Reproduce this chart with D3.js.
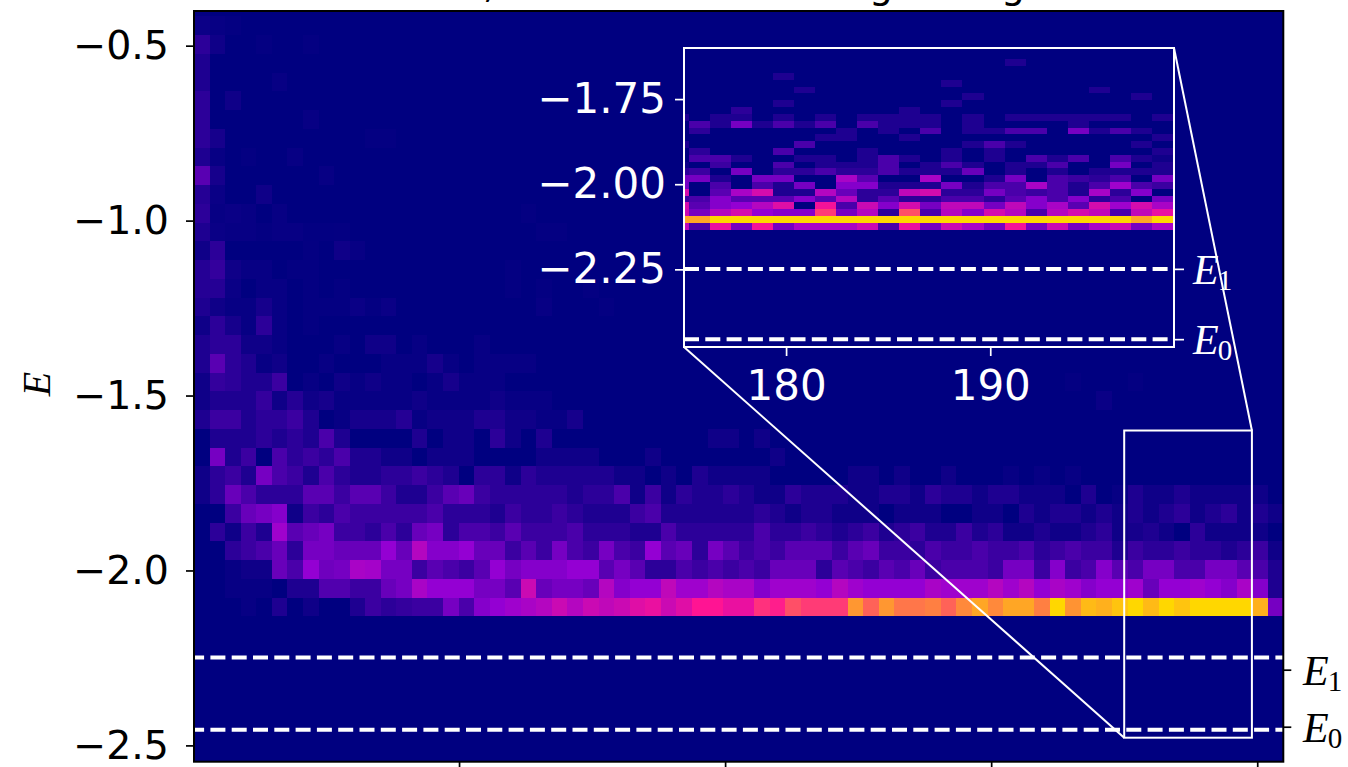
<!DOCTYPE html>
<html>
<head>
<meta charset="utf-8">
<title>E histogram</title>
<script src="https://d3js.org/d3.v7.min.js"></script>
<style>
	body { margin: 0; background: #fff; overflow: hidden; }
	svg { display: block; }
	text { font-family: "DejaVu Sans", sans-serif; }
	.math { font-family: "Liberation Serif", serif; }
</style>
</head>
<body>
<script>
// tick values
var mainYTicks = [-0.5, -1.0, -1.5, -2.0, -2.5];
var mainXTicks = [50, 100, 150, 200];
var insetYTicks = [-1.75, -2.0, -2.25];
var insetXTicks = [180, 190];

// the two dashed levels, and where their labels sit on the main right axis
var levels = [-2.2486, -2.455];
var levelNames = ['1', '0'];
var mainLevelTicks = [-2.2836, -2.4466];

// zoom window of the inset
var zoomX = [175, 199];
var zoomY = [-2.478, -1.6];

// colour stops, counts as a 0..30 level
var colorLevels = [0, 10, 20, 30];
var colorNames = ['navy', 'darkviolet', 'deeppink', 'gold'];

// main histogram bins
var mainBinX = [0.2, 2.924];
var mainBinY = [-2.1314, 0.0536];
// rows go upward from the lowest filled bin, missing tail cells are 0
var mainRows = [
	[0,0,0,.5,0,2,0,1,0,0,2,4,3,3.5,4,4,8,5,9,10,11,12,13,15,13,15,14,15,17,18,15,17,20,20,18,18,21.5,20.5,23,22,22,22,26.7,24,26.7,25,25,25.5,24,26,27.5,26,27.5,27.5,25.5,30,26.5,28.5,28,29,30,28.5,30,29,30,30,30,30,28,8],
	[0,0,.5,.5,.5,0,2,2,5.5,5.5,4,4,7,8,12,10,10,10,8,8,6,15,7,8,8,7,13,9,10,10,14,11,11,13,12,12,9,11,11,11,10,13,11,10,10,10,10,12,11,11,11,13,11,13,10,12,11,9,10,10,11,7,10,10,11,10,9,12,9,2],
	[0,0,.5,1,1,7,5,10,7.5,8,12,11.5,8,8,4,6,5,4,6,10,8,9,9,9,10,10,6,8,6,3,3,5,4,5,4,5,4,7,7,7,3,6,5,4,6,5,7,4,5,5,5,4,8,8,4,9,4,5,9,6,5,8,8,5,5,8,8,6,5,2],
	[0,0,3,4,5,7,3,8,8,7,7,7,10,7,13,9,9,10,7,7,4,6,4,8,5,4,8,5,4,10,6,7,3,8,6,4,5,4,6,6,6,4,6,7,4,4,3,5,4,4,5,4,4,5,3,4,5,4,4,2,4,3,3,4,3,3,2,3,4,1],
	[0,3,1,4,2,11,6,7,8,4,4,3,5,3,7,8,3,5,5,4,6,4,4,4,5,3,3,3,2,2,5,3,3,3,3,3,5,3,3,4,3,2,3,4,2,3,4,2,2,4,2,3,1,1,2,1,1,2,3,1,1.5,2,1,0,3,1,1,1,1,0],
	[0,0,4,7,8,9,1,4,3,5,4,4,4,4,4,5,3,3,3,2,4,3,3,4,3,2,2,2,4,5,2,2,2,2,2,2,3,2,1,2,2,1,1,1,0,1,1,1,0,0,1,1,0,2,1,2,2,1,2,1,2,1,2,3,1,2,3,1,2,1],
	[1,3,7,5,3,3,3,6,6,4,6,6,4,2,2,4,6,7,4,3,3,3,3,3,2,3,3,5,1,4,1,3,2,2,3,2,1,1,3,2,2,2,1,1,2,2,1,3,2,2,1,2,2,1,1,1,0,2,0,.5,2,1,1,2,1,1,1,1,1,0],
	[1,3,4,2,8,5,4,2,5,3,2,2,3,3,4,3,2,0,3,3,1,3,2,2,2,2,2,1,1,0,1,0,2,1,1,1,1,0,0,0,0,0,1,1,0,1,0,0,1,0,0,0,.5,0,.5,0,.5],
	[0,8,2,4,0,5,3,4,3,5,2,2,1,1,0,1,1,1,0,0,0,0,1,1,1,1,0,0,0,1,0,0,0,0,0,0,0,1],
	[0,2,2,2,3,2,3,2,5,2,0,0,0,0,2,0,1,1,0,3,1,0,2,0,0,0,0,0,0,0,0,0,0,1,1,0,1],
	[2,4,4,2,3,3,4,2,0,.5,1.5,1.5,1.5,2.5,.5,1,1,1,2,2,1,1,.5,.5,1.5],
	[1,2,2,2,3.5,1,2.5,1,1.5,.5,.5,.5,.5,.5,1,.5,.5,.5,.5,1,.5,.5,.5,0,0,0,0,0,0,0,0,0,0,0,0,0,0,0,0,0,0,0,0,0,0,0,0,0,0,0,0,0,0,0,0,0,0,0,.7],
	[1,3.5,3,2,2,4,0,.5,0,1,.5,1,.5,.5,0,.5,1.5,.5,.5,.5,0,0,0,0,0,0,0,0,0,0,0,0,0,0,0,0,0,0,0,0,0,0,0,0,0,0,0,0,0,0,0,0,0,0,0,0,.3,0,0,0,.3],
	[2,6,3,2,.5,1,0,0,.5,0,0,0,.5,.5,.5,1.5,.5,0,.5,.5,.5,.5],
	[2,3,3,1,1,.5,0,0,0,.5,0,1,1,0,.5,0,0,0,.5],
	[1,3,1.5,.5,3,.5,0,.3],
	[2,1,.5,.5,1.5,.5,0,.3,.3,.3,.7,.3,.7,0,0,0,0,0,0,0,0,0,.5,0,0,0,.3],
	[2.5,2.5,.7,0,.5,.5,0,.3,0,.3,0,0,0,0,0,0,0,0,0,0,.3,0,.3,0,0,.3],
	[2.5,3.5,1,.5,.5,0,.3,.3,0,0,0,0,0,0,0,0,0,0,0,0,.3],
	[1,3,0,0,0,0,0,.3,0,1,.5],
	[2,.7,.5,.5,.3,.5,.5,.2,.2,.3,0,0,0,0,0,0,0,0,0,0,0,0,.3,.3],
	[3,.5,.7,.5,0,.5,0,0,0,0,0,0,0,0,0,0,0,0,0,0,0,.3],
	[2.5,.7,0,0,1],
	[6,1.5,0,0,0,0,0,0,.5],
	[2,.5,0,.3,0,0,.5],
	[3,1.5,0,0,0,0,0,0,0,0,0,.3,.3],
	[3,0,0,0,0,0,0,.5],
	[3,0,1],
	[2,0,0,0,0,.5],
	[2],
	[3,1,0,0,.3,0,0,.3],
	[.8,.5,.3],
	[.3]
];

// inset histogram bins
var insetBinX = [174.22, 1.03];
var insetBinY = [-2.1335, 0.02];
var insetRows = [
	[14,5,18,8,19,8,12,12,12,15,5,18,8,15,12,8,19,8,15,8,12,15,8,12],
	[27.5,27.5,30,30,30,30,30,30,30,30,30,30,30,30,30,30,30,30,30,30,30,30,27.5,30],
	[15,8,13,16,10,9,9,22,8,13,3,23,5,13,9,16,13,5,13,16,14,5,14,18],
	[16,6,9,10,13,17,0,19,5,15,9,16,8,14,14,8,14,9,12,6,16,11,16,12],
	[4,5,9,6,6,6,9,6,13,3,6,3,3,5,5,3,6,9,5,9,3,5,0,8],
	[16,0,6,12,16,2,2,13,7,3,3,14,16,3,3,8,5,4,5,2,12,3,9,0],
	[8,0,5,0,5,2,8,0,9,9,2,2,2,8,2,5,5,12,5,2,5,11,5,4],
	[8,8,2,0,8,8,0,0,12,6,0,0,12,0,0,2,8,0,5,4,3,5,0,8],
	[3,4,0,8,0,3,3,5,3,3,5,2,2,2,7,0,2,0,2,0,2,2,2,2],
	[1,0,4,0,0,5,0,2,2,2,5,0,2,5,2,0,2,2,5,0,0,8,0,2],
	[0,5,5,2,0,0,2,2,0,2,5,2,0,2,0,2,0,5,2,5,0,5,2,1],
	[0,3,0,0,0,5,0,0,0,2,0,0,0,2,0,2,0,0,0,0,0,0,0,2],
	[2,0,0,0,0,0,5,0,0,0,0,0,0,0,2,5,2,0,0,0,0,0,2,0],
	[0,0,0,0,0,0,0,2,2,0,0,2,0,0,0,0,0,0,0,0,0,0,0,2],
	[0,3,0,0,0,0,0,0,2,0,2,0,5,0,2,2,5,5,0,8,2,5,2,0],
	[0,5,2,8,2,5,2,5,0,5,2,2,2,0,2,0,0,0,0,2,0,0,0,0],
	[2,0,2,2,0,2,0,2,0,2,2,2,2,0,2,0,2,2,2,2,2,2,0,2],
	[0,0,0,3,0,0,0,0,0,0,0,2],
	[0,0,0,0,0,2,0,0,0,0,0,0,0,2],
	[0,0,0,0,0,0,0,0,0,0,0,0,0,0,2,0,0,0,0,0,0,0,2],
	[0,0,0,0,0,0,2,0,0,0,0,0,0,0,0,0,0,0,0,0,2],
	[0,0,0,0,0,0,0,0,0,0,0,0,0,2],
	[0,0,0,0,0,2],
	[],
	[0,0,0,0,0,0,0,0,0,0,0,0,0,0,0,0,2]
];

var svgConfig = { width: 1348, height: 767 };
var mainBox = { left: 194, right: 1283.3, top: 11, bottom: 761.7 };
var insetBox = { left: 684, right: 1174, top: 48, bottom: 347 };

var svg =
	d3.select('body')
	.append('svg')
	.attr('width', svgConfig.width)
	.attr('height', svgConfig.height);
var defs = svg.append('defs');

var color =
	d3.scaleLinear()
	.domain(colorLevels)
	.range(colorNames)
	.clamp(true);

// main scales
var xMain =
	d3.scaleLinear()
	.domain([0.19, 204.9])
	.range([mainBox.left, mainBox.right]);
var yMain =
	d3.scaleLinear()
	.domain([-2.5466, -0.4009])
	.range([mainBox.bottom, mainBox.top]);

// inset scales
var xInset =
	d3.scaleLinear()
	.domain(zoomX)
	.range([insetBox.left, insetBox.right]);
var yInset =
	d3.scaleLinear()
	.domain(zoomY)
	.range([insetBox.bottom, insetBox.top]);

// one heatmap panel: navy background, cells clipped to the box, dashed levels
function drawPanel(id, box, x, y, rows, binX, binY, dashOffset) {
	defs.append('clipPath')
		.attr('id', id)
		.append('rect')
		.attr('x', box.left)
		.attr('y', box.top)
		.attr('width', box.right - box.left)
		.attr('height', box.bottom - box.top);
	var g = svg.append('g').attr('clip-path', 'url(#' + id + ')');
	g.append('rect')
		.attr('x', box.left)
		.attr('y', box.top)
		.attr('width', box.right - box.left)
		.attr('height', box.bottom - box.top)
		.attr('fill', color(0));
	var cells = [];
	rows.forEach(function (row, r) {
		row.forEach(function (v, c) {
			if (v > 0) cells.push({ r: r, c: c, v: v });
		});
	});
	g.selectAll('.cell')
		.data(cells)
		.enter()
		.append('rect')
		.attr('class', 'cell')
		.attr('x', function (d) { return x(binX[0] + d.c * binX[1]); })
		.attr('y', function (d) { return y(binY[0] + (d.r + 1) * binY[1]); })
		.attr('width', function (d) { return x(binX[0] + (d.c + 1) * binX[1]) - x(binX[0] + d.c * binX[1]); })
		.attr('height', function (d) { return y(binY[0] + d.r * binY[1]) - y(binY[0] + (d.r + 1) * binY[1]); })
		.attr('fill', function (d) { return color(d.v); })
		.attr('shape-rendering', 'crispEdges');
	g.selectAll('.level')
		.data(levels)
		.enter()
		.append('line')
		.attr('class', 'level')
		.attr('x1', box.left)
		.attr('x2', box.right)
		.attr('y1', function (d) { return y(d); })
		.attr('y2', function (d) { return y(d); })
		.attr('stroke', '#fff')
		.attr('stroke-width', 4)
		.attr('stroke-dasharray', '15 6.3')
		.attr('stroke-dashoffset', dashOffset);
}

drawPanel('mainClip', mainBox, xMain, yMain, mainRows, mainBinX, mainBinY, 4.9);

// main axes
function styleAxis(g, col, fontSize) {
	g.selectAll('.domain').remove();
	g.selectAll('line').attr('stroke', col).attr('stroke-width', 1.7);
	g.selectAll('text').attr('fill', col).style('font-size', fontSize + 'px').style('font-family', '"DejaVu Sans", sans-serif');
}

svg.append('g')
	.attr('transform', 'translate(' + mainBox.left + ',0)')
	.call(d3.axisLeft(yMain).tickValues(mainYTicks).tickSize(8).tickPadding(17).tickFormat(d3.format('.1f')))
	.call(styleAxis, '#000', 39.5);
svg.append('g')
	.attr('transform', 'translate(0,' + mainBox.bottom + ')')
	.call(d3.axisBottom(xMain).tickValues(mainXTicks).tickSize(8).tickFormat(''))
	.call(styleAxis, '#000', 39.5);
svg.append('g')
	.attr('transform', 'translate(' + mainBox.right + ',0)')
	.call(d3.axisRight(yMain).tickValues(mainLevelTicks).tickSize(8).tickFormat(''))
	.call(styleAxis, '#000', 39.5);

svg.append('rect')
	.attr('x', mainBox.left)
	.attr('y', mainBox.top)
	.attr('width', mainBox.right - mainBox.left)
	.attr('height', mainBox.bottom - mainBox.top)
	.attr('fill', 'none')
	.attr('stroke', '#000')
	.attr('stroke-width', 2);

// inset
drawPanel('insetClip', insetBox, xInset, yInset, insetRows, insetBinX, insetBinY, 0);

svg.append('g')
	.attr('transform', 'translate(' + insetBox.left + ',0)')
	.call(d3.axisLeft(yInset).tickValues(insetYTicks).tickSize(9).tickPadding(9).tickFormat(d3.format('.2f')))
	.call(styleAxis, '#fff', 42);
svg.append('g')
	.attr('transform', 'translate(0,' + insetBox.bottom + ')')
	.call(d3.axisBottom(xInset).tickValues(insetXTicks).tickSize(9).tickPadding(14).tickFormat(d3.format('d')))
	.call(styleAxis, '#fff', 42);
svg.append('g')
	.attr('transform', 'translate(' + insetBox.right + ',0)')
	.call(d3.axisRight(yInset).tickValues(levels).tickSize(10).tickFormat(''))
	.call(styleAxis, '#fff', 42);

svg.append('rect')
	.attr('x', insetBox.left)
	.attr('y', insetBox.top)
	.attr('width', insetBox.right - insetBox.left)
	.attr('height', insetBox.bottom - insetBox.top)
	.attr('fill', 'none')
	.attr('stroke', '#fff')
	.attr('stroke-width', 2);

// zoom window on the main axes and its two connectors
svg.append('rect')
	.attr('x', xMain(zoomX[0]))
	.attr('y', yMain(zoomY[1]))
	.attr('width', xMain(zoomX[1]) - xMain(zoomX[0]))
	.attr('height', yMain(zoomY[0]) - yMain(zoomY[1]))
	.attr('fill', 'none')
	.attr('stroke', '#fff')
	.attr('stroke-width', 2);
svg.append('line')
	.attr('x1', insetBox.right)
	.attr('y1', insetBox.top)
	.attr('x2', xMain(zoomX[1]))
	.attr('y2', yMain(zoomY[1]))
	.attr('stroke', '#fff')
	.attr('stroke-width', 2);
svg.append('line')
	.attr('x1', insetBox.left)
	.attr('y1', insetBox.bottom)
	.attr('x2', xMain(zoomX[0]))
	.attr('y2', yMain(zoomY[0]))
	.attr('stroke', '#fff')
	.attr('stroke-width', 2);

// E_n labels
function levelLabel(xE, baseY, name, col) {
	var t = svg.append('text')
		.attr('class', 'math')
		.attr('x', xE)
		.attr('y', baseY)
		.attr('fill', col)
		.style('font-size', '42px');
	t.append('tspan').style('font-style', 'italic').text('E');
	t.append('tspan')
		.attr('dy', 6)
		.attr('dx', -1)
		.style('font-size', '29px')
		.text(name);
}

levelNames.forEach(function (name, i) {
	levelLabel(1303, yMain(mainLevelTicks[i]) + 15.6, name, '#000');
	levelLabel(1193, yInset(levels[i]) + 15.3, name, '#fff');
});

// y axis label
svg.append('text')
	.attr('class', 'math')
	.attr('transform', 'translate(50,384) rotate(-90)')
	.attr('text-anchor', 'middle')
	.style('font-size', '40px')
	.style('font-style', 'italic')
	.text('E');

// the title is cut off by the top edge, only these descenders show
svg.selectAll('.titleBit')
	.data([[',', 483], ['g', 869], ['g', 1001]])
	.enter()
	.append('text')
	.attr('class', 'titleBit')
	.attr('x', function (d) { return d[1]; })
	.attr('y', -2)
	.attr('fill', '#000')
	.style('font-size', '38px')
	.text(function (d) { return d[0]; });
</script>
</body>
</html>
